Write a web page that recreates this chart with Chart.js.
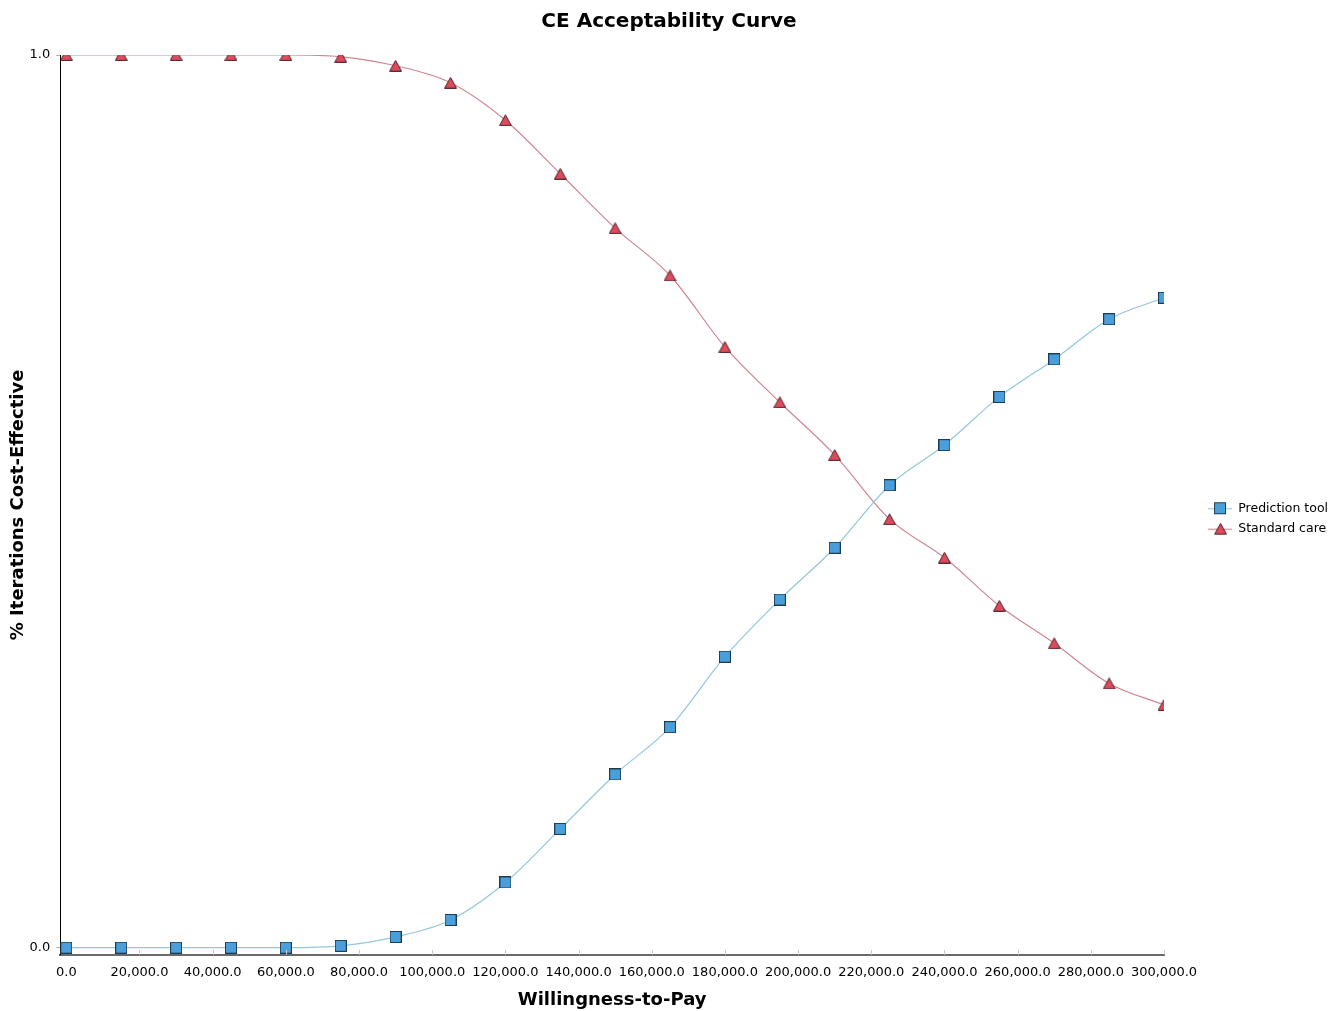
<!DOCTYPE html>
<html>
<head>
<meta charset="utf-8">
<title>CE Acceptability Curve</title>
<script src="https://cdn.jsdelivr.net/npm/chart.js@4/dist/chart.umd.min.js"></script>
<style>
  html, body { margin: 0; padding: 0; background: #ffffff; }
  #wrap { width: 1338px; height: 1011px; position: relative; }
</style>
</head>
<body>
<div id="wrap"><canvas id="ceac"></canvas></div>
<script>
// Willingness-to-pay thresholds evaluated
const wtp = [0, 15000, 30000, 45000, 60000, 75000, 90000, 105000, 120000, 135000,
             150000, 165000, 180000, 195000, 210000, 225000, 240000, 255000, 270000, 285000, 300000];

// Share of iterations in which each strategy is cost-effective
const predictionTool = [0, 0, 0, 0, 0, 0.002, 0.012, 0.031, 0.073, 0.133,
                        0.194, 0.247, 0.326, 0.390, 0.448, 0.518, 0.563, 0.617, 0.659, 0.704, 0.728];
const standardCare   = [1, 1, 1, 1, 1, 0.998, 0.988, 0.969, 0.927, 0.867,
                        0.806, 0.753, 0.673, 0.611, 0.552, 0.480, 0.437, 0.383, 0.341, 0.296, 0.272];

// Axis tick values
const xTickValues = [0, 20000, 40000, 60000, 80000, 100000, 120000, 140000, 160000, 180000,
                     200000, 220000, 240000, 260000, 280000, 300000];
const yTickValues = [0, 1];

const seriesNames = ['Prediction tool', 'Standard care'];

const FONT = 'Verdana, "DejaVu Sans", sans-serif';

// Marker glyphs
function squareMarker() {
  const c = document.createElement('canvas');
  c.width = 12; c.height = 12;
  const g = c.getContext('2d');
  g.fillStyle = '#4a9fdb';
  g.strokeStyle = '#1f3b52';
  g.lineWidth = 1;
  g.fillRect(0.5, 0.5, 11, 11);
  g.strokeRect(0.5, 0.5, 11, 11);
  return c;
}
function triangleMarker() {
  const c = document.createElement('canvas');
  c.width = 13; c.height = 12;
  const g = c.getContext('2d');
  g.fillStyle = '#dd4b5c';
  g.strokeStyle = '#4d1f26';
  g.lineWidth = 1;
  g.beginPath();
  g.moveTo(6.5, 0.7);
  g.lineTo(12.4, 11.4);
  g.lineTo(0.6, 11.4);
  g.closePath();
  g.fill();
  g.stroke();
  return c;
}
// Legend swatch: short line with the marker in the middle
function legendSwatch(marker, lineColor) {
  const c = document.createElement('canvas');
  c.width = 24; c.height = 14;
  const g = c.getContext('2d');
  g.strokeStyle = lineColor;
  g.lineWidth = 1.2;
  g.beginPath();
  g.moveTo(0, 7.5);
  g.lineTo(24, 7.5);
  g.stroke();
  g.drawImage(marker, Math.round((24 - marker.width) / 2), Math.round((14 - marker.height) / 2));
  return c;
}

const blueLine = '#92c8d8';
const redLine = '#cf8692';
const sq = squareMarker();
const tri = triangleMarker();
const swatches = [legendSwatch(sq, blueLine), legendSwatch(tri, redLine)];

function fmtThousands(v) {
  return Number(v).toLocaleString('en-US', { minimumFractionDigits: 1, maximumFractionDigits: 1 });
}

// Small inward tick marks along the x axis
const innerTicks = {
  id: 'innerTicks',
  afterDatasetsDraw(chart) {
    const xs = chart.scales.x;
    const y0 = chart.chartArea.bottom;
    const ctx = chart.ctx;
    ctx.save();
    ctx.strokeStyle = '#c8c8c8';
    ctx.lineWidth = 1;
    xs.ticks.forEach(t => {
      if (t.value === 0) return;
      const px = Math.round(xs.getPixelForValue(t.value)) + 0.5;
      ctx.beginPath();
      ctx.moveTo(px, y0 - 5);
      ctx.lineTo(px, y0);
      ctx.stroke();
    });
    ctx.restore();
  }
};

// Legend sits a little away from the plot area; the title spans the full canvas width
const blockPlacement = {
  id: 'blockPlacement',
  afterLayout(chart) {
    const lg = chart.legend;
    if (lg) {
      const w = lg.width, h = lg.height;
      lg.left = chart.chartArea.right + 36;
      lg.right = lg.left + w;
      lg.top += 9;
      lg.bottom = lg.top + h;
    }
    const tb = chart.titleBlock;
    if (tb) {
      tb.left = 0;
      tb.right = chart.width;
      tb.width = chart.width;
    }
  }
};

new Chart(document.getElementById('ceac'), {
  type: 'line',
  data: {
    datasets: [
      {
        label: seriesNames[0],
        data: wtp.map((x, i) => ({ x: x, y: predictionTool[i] })),
        borderColor: blueLine,
        borderWidth: 1.2,
        pointStyle: sq,
        pointRadius: 6,
        cubicInterpolationMode: 'monotone',
        fill: false
      },
      {
        label: seriesNames[1],
        data: wtp.map((x, i) => ({ x: x, y: standardCare[i] })),
        borderColor: redLine,
        borderWidth: 1.2,
        pointStyle: tri,
        pointRadius: 6,
        cubicInterpolationMode: 'monotone',
        fill: false
      }
    ]
  },
  options: {
    responsive: true,
    maintainAspectRatio: false,
    animation: false,
    events: [],
    layout: { padding: { left: 8, right: 36, top: 8, bottom: 0 } },
    plugins: {
      title: {
        display: true,
        text: 'CE Acceptability Curve',
        color: '#000',
        font: { family: FONT, size: 20, weight: 'bold' },
        padding: { top: 2, bottom: 21 }
      },
      legend: {
        display: true,
        position: 'right',
        align: 'center',
        labels: {
          usePointStyle: true,
          pointStyleWidth: 24,
          color: '#000',
          padding: 8,
          font: { family: FONT, size: 12.5 },
          generateLabels(chart) {
            return chart.data.datasets.map((ds, i) => ({
              text: ds.label,
              pointStyle: swatches[i],
              fillStyle: 'transparent',
              strokeStyle: 'transparent',
              lineWidth: 0,
              hidden: false,
              datasetIndex: i,
              fontColor: '#000'
            }));
          }
        }
      },
      tooltip: { enabled: false }
    },
    scales: {
      x: {
        type: 'linear',
        min: -1650,
        max: 300000,
        afterBuildTicks(scale) { scale.ticks = xTickValues.map(v => ({ value: v })); },
        ticks: {
          color: '#000',
          font: { family: FONT, size: 13 },
          padding: 10,
          maxRotation: 0,
          autoSkip: false,
          callback: v => fmtThousands(v)
        },
        grid: { display: false, drawTicks: false },
        border: { display: true, color: '#6a6a6a', width: 2 },
        title: {
          display: true,
          text: 'Willingness-to-Pay',
          color: '#000',
          font: { family: FONT, size: 18, weight: 'bold' },
          padding: { top: -1, bottom: 0 }
        }
      },
      y: {
        type: 'linear',
        min: -0.008,
        max: 1.0,
        afterBuildTicks(scale) { scale.ticks = yTickValues.map(v => ({ value: v })); },
        ticks: {
          color: '#000',
          font: { family: FONT, size: 13 },
          padding: 6,
          autoSkip: false,
          callback: v => Number(v).toFixed(1)
        },
        grid: { display: true, drawOnChartArea: false, drawTicks: true, tickLength: 4, color: '#b0b0b0' },
        border: { display: true, color: '#000', width: 1 },
        title: {
          display: true,
          text: '% Iterations Cost-Effective',
          color: '#000',
          font: { family: FONT, size: 18, weight: 'bold' },
          padding: { top: 0, bottom: -6 }
        }
      }
    }
  },
  plugins: [innerTicks, blockPlacement]
});
</script>
</body>
</html>
